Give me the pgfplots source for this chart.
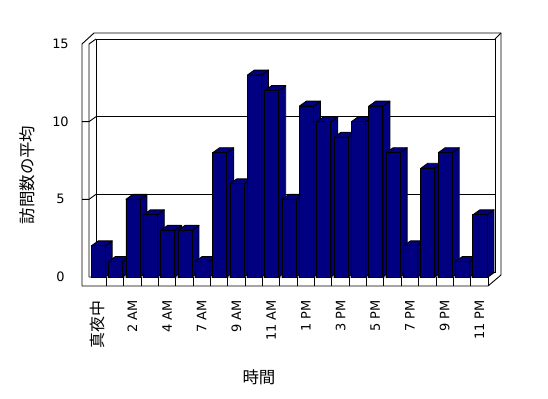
\documentclass[border=0pt]{standalone}
\usepackage{fontspec}
\setmainfont{DejaVu Sans}
\newfontfamily\cjk{Noto Sans CJK JP}
\usepackage{pgfplots}
\usepackage{pgfplotstable}
\pgfplotsset{compat=1.18}
\definecolor{barnavy}{RGB}{0,0,128}

\pgfplotstableread{
idx v
0 2
1 1
2 5
3 4
4 3
5 3
6 1
7 8
8 6
9 13
10 12
11 5
12 11
13 10
14 9
15 10
16 11
17 8
18 2
19 7
20 8
21 1
22 4
}\data

\begin{document}
\begin{tikzpicture}[x=1bp,y=1bp]
\useasboundingbox (-89,-121) rectangle (459,277);
\begin{axis}[
  at={(0,0)}, anchor=south west,
  scale only axis, width=399bp, height=233bp,
  xmin=-0.5, xmax=22.5, ymin=0, ymax=15,
  clip=false,
  axis line style={draw=none},
  major tick length=0pt,
  /pgf/number format/assume math mode=true,
  xtick={0,2,...,22},
  xticklabels={{\cjk\fontsize{16}{18}\selectfont 真夜中},2 AM,4 AM,7 AM,9 AM,11 AM,1 PM,3 PM,5 PM,7 PM,9 PM,11 PM},
  ytick={0,5,10,15},
  tick label style={font=\fontsize{13}{15}\selectfont},
  xticklabel style={anchor=east, inner sep=0pt, yshift=-23bp, rotate=90},
  yticklabel style={anchor=center, xshift=-28.5bp},
  ylabel={訪問数の平均},
  xlabel={時間},
  ylabel style={at={(axis description cs:-0.155,0.438)}, anchor=center, font=\cjk\fontsize{16.5}{18}\selectfont},
  xlabel style={at={(axis description cs:0.426,-0.429)}, anchor=center, font=\cjk\fontsize{16.5}{18}\selectfont},
  frame/.style={black, line width=0.9bp, no markers, forget plot},
  barface/.style={fill=barnavy, draw=black, line width=0.9bp, line join=round, no markers, forget plot},
]
% back wall and grid
\addplot[frame] coordinates {(-0.0965,0.322) (22.9035,0.322) (22.9035,15.322) (-0.0965,15.322)} -- cycle;
\addplot[frame] coordinates {(-0.0965,5.322) (22.9035,5.322)};
\addplot[frame] coordinates {(-0.0965,10.322) (22.9035,10.322)};
% left wall
\addplot[frame] coordinates {(-0.9035,5) (-0.5,5) (-0.0965,5.322)};
\addplot[frame] coordinates {(-0.9035,10) (-0.5,10) (-0.0965,10.322)};
\addplot[frame] coordinates {(-0.9035,-0.5794) (-0.9035,15) (-0.2118,15.708) (23.249,15.708) (23.249,0.1288)};
\addplot[frame] coordinates {(-0.5,0) (-0.5,15) (-0.0965,15.322)};
\addplot[frame] coordinates {(22.9035,15.322) (23.249,15.708)};
% floor
\addplot[frame] coordinates {(-0.9035,-0.5794) (22.5,-0.5794) (23.249,0.1288)};
\addplot[frame] coordinates {(-0.5,0) (22.5,0) (22.9035,0.322)};
\addplot[frame] coordinates {(22.5,-0.5794) (22.5,0)};
\pgfplotsinvokeforeach{0,...,21}{
  \addplot[frame] coordinates {(#1.5,-0.5794) (#1.5,0)};
}
% bar sides and tops
\pgfplotsinvokeforeach{0,...,22}{
  \pgfplotstablegetelem{#1}{v}\of\data
  \pgfmathsetmacro\vv{\pgfplotsretval}
  \pgfmathsetmacro\vt{\pgfplotsretval+0.322}
  \pgfmathsetmacro\xl{#1-0.37}
  \pgfmathsetmacro\xr{#1+0.44}
  \pgfmathsetmacro\xlb{#1+0.03}
  \pgfmathsetmacro\xrb{#1+0.84}
  \addplot[barface] coordinates {(\xr,0) (\xrb,0.322) (\xrb,\vt) (\xr,\vv)} -- cycle;
  \addplot[barface] coordinates {(\xl,\vv) (\xlb,\vt) (\xrb,\vt) (\xr,\vv)} -- cycle;
}
% bar fronts
\addplot[ybar, bar width=0.81, bar shift=0.035, fill=barnavy, draw=black, line width=0.9bp, forget plot] table[x=idx,y=v]{\data};
\end{axis}
\end{tikzpicture}
\end{document}
